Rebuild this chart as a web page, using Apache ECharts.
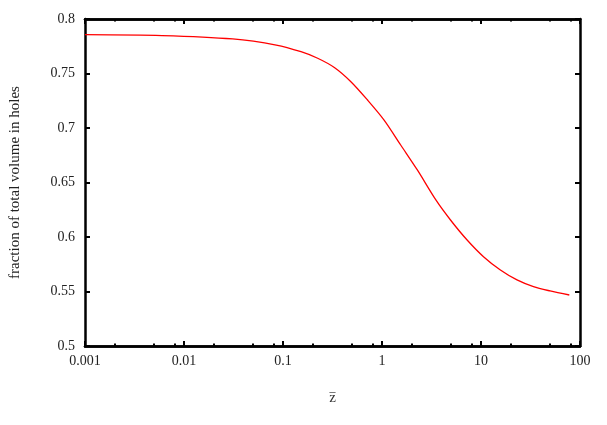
<!DOCTYPE html>
<html>
<head>
<meta charset="utf-8">
<script src="https://cdn.jsdelivr.net/npm/echarts@6/dist/echarts.min.js"></script>
<style>
  html, body { margin: 0; padding: 0; background: #fff; }
  #chart { width: 607px; height: 425px; }
</style>
</head>
<body>
<div id="chart"></div>
<script>
// z values (log axis) and fraction of volume in holes
var zValues = [0.001, 0.006, 0.031, 0.0855, 0.152, 0.224, 0.33, 0.485, 0.714, 1.05, 1.545, 2.275, 3.5, 4.92, 7.24, 10.6, 15.7, 23.1, 33.9, 49.9, 78];
var fracValues = [0.7856, 0.7848, 0.7817, 0.7761, 0.770, 0.764, 0.7555, 0.7425, 0.7257, 0.7073, 0.6844, 0.6615, 0.634, 0.6156, 0.5972, 0.5819, 0.5697, 0.5606, 0.5544, 0.5505, 0.5468];

var majorTicks = [0.001, 0.01, 0.1, 1, 10, 100];
var minorTicks = [0.002, 0.005, 0.008, 0.02, 0.05, 0.08, 0.2, 0.5, 0.8, 2, 5, 8, 20, 50, 80];

var font = '"Liberation Serif", "DejaVu Serif", serif';
var lineStyle = { color: '#000', width: 2.5 };

function xAxisDef(pos, ticks, len, showLabel) {
  return {
    type: 'log', logBase: 10, min: 0.001, max: 100, position: pos,
    axisLine: { show: true, onZero: false, lineStyle: lineStyle },
    axisTick: { show: true, inside: true, length: len, customValues: ticks, lineStyle: { color: '#000', width: 2 } },
    axisLabel: {
      show: showLabel, customValues: majorTicks, margin: 8,
      color: '#222', fontFamily: font, fontSize: 14,
      formatter: function (v) { return String(v); }
    },
    splitLine: { show: false }, minorTick: { show: false }
  };
}

var chart = echarts.init(document.getElementById('chart'), null, { renderer: 'canvas' });
var option = {
  animation: false,
  grid: { left: 83, right: 27, top: 19, bottom: 79 },
  xAxis: [
    Object.assign(xAxisDef('bottom', majorTicks, 5, true), {
      name: '{o|_}\n{z|z}', nameLocation: 'middle', nameGap: 40,
      nameTextStyle: {
        rich: {
          o: { fontFamily: font, fontSize: 12, color: '#333', lineHeight: 4 },
          z: { fontFamily: font, fontSize: 15, color: '#333', lineHeight: 16 }
        }
      }
    }),
    xAxisDef('bottom', minorTicks, 2.5, false),
    xAxisDef('top', majorTicks, 5, false),
    xAxisDef('top', minorTicks, 2.5, false)
  ],
  yAxis: [
    {
      type: 'value', min: 0.5, max: 0.8, interval: 0.05, position: 'left',
      name: 'fraction of total volume in holes', nameLocation: 'middle', nameGap: 62,
      nameTextStyle: { color: '#222', fontFamily: font, fontSize: 15 },
      axisLine: { show: true, lineStyle: lineStyle },
      axisTick: { show: true, inside: true, length: 5, lineStyle: { color: '#000', width: 2 } },
      axisLabel: {
        color: '#222', fontFamily: font, fontSize: 14, margin: 10,
        formatter: function (v) { return String(parseFloat(v.toFixed(2))); }
      },
      splitLine: { show: false }
    },
    {
      type: 'value', min: 0.5, max: 0.8, interval: 0.05, position: 'right',
      axisLine: { show: true, lineStyle: lineStyle },
      axisTick: { show: true, inside: true, length: 5, lineStyle: { color: '#000', width: 2 } },
      axisLabel: { show: false },
      splitLine: { show: false }
    }
  ],
  series: [{
    type: 'line',
    xAxisIndex: 0, yAxisIndex: 0,
    data: zValues.map(function (z, i) { return [z, fracValues[i]]; }),
    showSymbol: false,
    smooth: 0.3,
    lineStyle: { color: '#ff0000', width: 1.3 }
  }]
};
chart.setOption(option);
</script>
</body>
</html>
